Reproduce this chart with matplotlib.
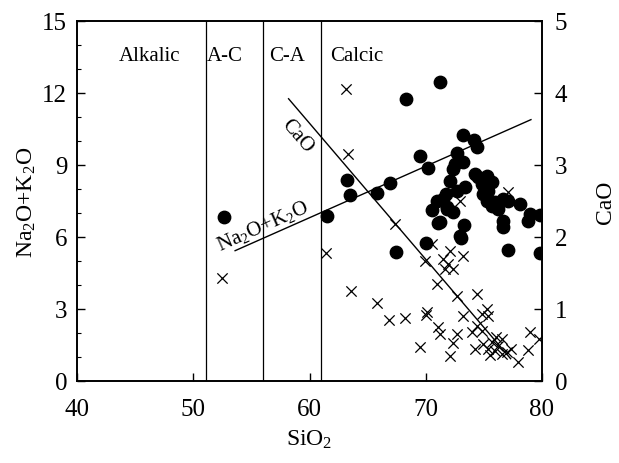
import matplotlib
matplotlib.use("Agg")
import matplotlib.pyplot as plt
from matplotlib.ticker import MultipleLocator

plt.rcParams['font.family'] = 'serif'
plt.rcParams['font.serif'] = ['Liberation Serif', 'Times New Roman', 'DejaVu Serif']
plt.rcParams['mathtext.fontset'] = 'custom'
plt.rcParams['mathtext.rm'] = 'Liberation Serif'
plt.rcParams['mathtext.it'] = 'Liberation Serif:italic'

# Na2O+K2O samples (filled circles)
sio2_alk = [52.65, 61.48, 63.48, 63.2, 65.78, 66.92, 67.41, 68.3, 71.23, 69.5,
            70.19, 70.02, 70.56, 70.99, 71.08, 71.23, 71.51, 71.72, 71.8, 71.8,
            72.09, 72.37, 72.37, 72.52, 72.66, 72.66, 73.18, 73.23, 73.38, 73.29,
            72.95, 74.18, 74.43, 74.24, 74.52, 75.24, 75.67, 74.81, 75.38, 74.95,
            75.24, 75.96, 76.67, 77.1, 76.24, 75.67, 78.11, 78.97, 79.83, 78.82,
            76.67, 76.62, 77.1, 79.83, 73.0]
alk = [6.83, 6.89, 7.75, 8.39, 7.83, 8.24, 5.39, 11.75, 12.47, 9.36,
       8.89, 5.75, 7.14, 7.51, 6.57, 6.63, 7.58, 7.79, 7.24, 7.17,
       8.35, 8.83, 7.03, 9.04, 7.93, 9.5, 10.25, 9.11, 8.07, 6.51,
       6.04, 10.04, 9.74, 8.63, 8.49, 8.55, 8.28, 8.21, 7.93, 7.79,
       7.51, 7.45, 7.58, 7.51, 7.17, 7.3, 7.38, 6.96, 6.92, 6.68,
       6.68, 6.4, 5.47, 5.32, 5.96]

# CaO samples (crosses)
sio2_cao = [52.47, 61.42, 63.11, 63.34, 63.54, 65.78, 66.86, 68.21, 67.35, 69.5,
            70.08, 70.02, 69.94, 70.51, 71.08, 71.23, 70.99, 71.51, 71.94, 71.66,
            72.37, 72.09, 73.23, 72.95, 77.1, 72.66, 74.38, 72.66, 72.37, 72.09,
            73.23, 75.24, 74.81, 75.38, 73.95, 74.38, 74.81, 74.24, 78.97, 79.77,
            78.82, 77.96, 76.96, 76.53, 74.92, 75.35, 75.7, 75.96, 76.2, 76.56,
            75.5, 77.33, 76.04]
cao = [1.43, 1.78, 4.05, 3.15, 1.25, 1.08, 0.85, 0.875, 2.18, 0.47,
       0.96, 0.91, 1.67, 1.9, 0.75, 0.65, 1.35, 1.69, 1.625, 1.56,
       1.55, 1.81, 1.74, 2.5, 2.62, 1.18, 1.21, 0.65, 0.53, 0.35,
       0.9, 1.0, 0.93, 0.9, 0.68, 0.77, 0.7, 0.44, 0.68, 0.58,
       0.43, 0.26, 0.4, 0.58, 0.51, 0.44, 0.54, 0.42, 0.49, 0.375,
       0.36, 0.44, 0.61]

# trend lines
alk_line_x = [53.6, 79.05]
alk_line_y = [5.43, 10.89]
cao_line_x = [58.2, 77.3]
cao_line_y = [3.92, 0.31]

# Peacock field boundaries
boundaries = [51.1, 56.0, 61.0]
field_names = ["Alkalic", "A-C", "C-A", "Calcic"]
field_x = [46.2, 52.7, 58.1, 61.8]

fig = plt.figure(figsize=(6.19, 4.64), dpi=100)
ax = fig.add_axes([77/619, 1-382/464, 465/619, 360/464])
ax2 = ax.twinx()

ax.set_xlim(40, 80)
ax.set_ylim(0, 15)
ax2.set_ylim(0, 5)

for b in boundaries:
    ax.axvline(b, color='black', lw=0.9)

ax.scatter(sio2_alk, alk, s=80, color='black', marker='o', zorder=3)
ax2.scatter(sio2_cao, cao, s=55, color='black', marker='x', linewidths=0.9, zorder=3)

ax.plot(alk_line_x, alk_line_y, color='black', lw=1.0)
ax2.plot(cao_line_x, cao_line_y, color='black', lw=1.0)

for name, fx in zip(field_names, field_x):
    ha = 'left' if name == 'Calcic' else 'center'
    ax.text(fx, 13.55, name, ha=ha, va='center', fontsize=15)

ax.text(58.9, 10.22, "CaO", rotation=-49, ha='center', va='center',
        fontsize=15, rotation_mode='anchor')
ax.text(56.0, 6.47, "Na$_2$O+K$_2$O", rotation=24, ha='center', va='center',
        fontsize=15, rotation_mode='anchor')

ax.set_xticks([40, 50, 60, 70, 80])
ax.set_yticks([0, 3, 6, 9, 12, 15])
ax.yaxis.set_minor_locator(MultipleLocator(1))
ax2.set_yticks([0, 1, 2, 3, 4, 5])

ax.tick_params(axis='x', which='major', direction='in', length=6, width=1,
               labelsize=18, pad=12)
ax.tick_params(axis='y', which='major', direction='in', length=6, width=1,
               labelsize=18, pad=7)
ax.tick_params(axis='y', which='minor', direction='in', length=3, width=0.8)
ax2.tick_params(axis='y', which='major', direction='in', length=6, width=1,
                labelsize=18, pad=9)

ax.set_xlabel("SiO$_2$", fontsize=17, labelpad=6)
ax.set_ylabel("Na$_2$O+K$_2$O", fontsize=17, labelpad=3)
ax2.set_ylabel("CaO", fontsize=17, labelpad=20)

for a in (ax, ax2):
    for sp in a.spines.values():
        sp.set_linewidth(1.2)

fig.savefig("out.png", dpi=100)
